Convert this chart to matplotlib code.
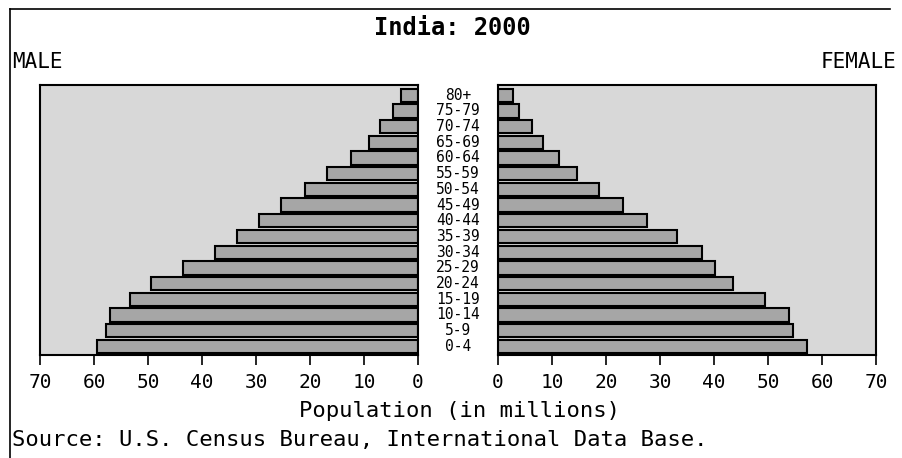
import matplotlib.pyplot as plt
import matplotlib.transforms as mtransforms
from matplotlib.lines import Line2D

# age groups, bottom to top
age_groups = ['0-4', '5-9', '10-14', '15-19', '20-24', '25-29', '30-34', '35-39',
              '40-44', '45-49', '50-54', '55-59', '60-64', '65-69', '70-74', '75-79', '80+']
# population in millions
male = [59.4, 57.8, 57.0, 53.3, 49.4, 43.5, 37.6, 33.5,
        29.4, 25.4, 20.9, 16.9, 12.4, 9.1, 7.0, 4.6, 3.1]
female = [57.2, 54.6, 53.9, 49.4, 43.5, 40.2, 37.8, 33.1,
          27.6, 23.1, 18.7, 14.6, 11.3, 8.3, 6.3, 3.9, 2.8]
xticks = [0, 10, 20, 30, 40, 50, 60, 70]

mono = 'DejaVu Sans Mono'
bg_col = '#d8d8d8'
bar_col = '#a6a6a6'

fig = plt.figure(figsize=(9.02, 4.58), dpi=100)
fig.patch.set_facecolor('white')

ax_l = fig.add_axes([40 / 902, 1 - 355 / 458, 378 / 902, 270 / 458])
ax_r = fig.add_axes([498 / 902, 1 - 355 / 458, 378 / 902, 270 / 458])

ypos = list(range(len(age_groups)))
ax_l.barh(ypos, male, height=0.85, color=bar_col, edgecolor='black', linewidth=1.5)
ax_r.barh(ypos, female, height=0.85, color=bar_col, edgecolor='black', linewidth=1.5)

for ax in (ax_l, ax_r):
    ax.set_facecolor(bg_col)
    ax.set_ylim(-0.55, 16.65)
    ax.set_yticks([])
    ax.set_xticks(xticks)
    ax.set_xticklabels([str(t) for t in xticks], fontfamily=mono, fontsize=14)
    ax.tick_params(axis='x', direction='out', length=7, width=1.2, pad=6)
    for s in ax.spines.values():
        s.set_linewidth(1.5)

ax_l.set_xlim(70, 0)
ax_r.set_xlim(0, 70)

# age labels in the gap between the two halves
trans = mtransforms.blended_transform_factory(fig.transFigure, ax_l.transData)
for y, lab in zip(ypos, age_groups):
    ax_l.text(458 / 902, y, lab, transform=trans, ha='center', va='center',
              fontfamily=mono, fontsize=10.5, clip_on=False)

fig.text(452 / 902, 1 - 28 / 458, 'India: 2000', ha='center', va='center',
         fontfamily=mono, fontsize=17, fontweight='bold')
fig.text(12 / 902, 1 - 62 / 458, 'MALE', ha='left', va='center', fontfamily=mono, fontsize=15)
fig.text(896 / 902, 1 - 62 / 458, 'FEMALE', ha='right', va='center', fontfamily=mono, fontsize=15)
fig.text(459 / 902, 1 - 411 / 458, 'Population (in millions)', ha='center', va='center',
         fontfamily=mono, fontsize=16)
fig.text(12 / 902, 1 - 440 / 458, 'Source: U.S. Census Bureau, International Data Base.',
         ha='left', va='center', fontfamily=mono, fontsize=16)

# scan border
fig.add_artist(Line2D([10 / 902, 10 / 902], [0, 1 - 9 / 458], transform=fig.transFigure,
                      color='black', linewidth=1.2))
fig.add_artist(Line2D([10 / 902, 890 / 902], [1 - 9 / 458, 1 - 9 / 458], transform=fig.transFigure,
                      color='black', linewidth=1.2))

fig.savefig('out.png', dpi=100)
